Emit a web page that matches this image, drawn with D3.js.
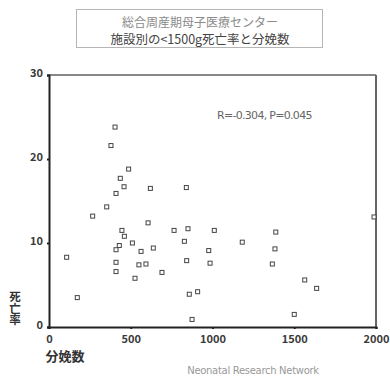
<!DOCTYPE html>
<html>
<head>
<meta charset="utf-8">
<script src="https://cdn.jsdelivr.net/npm/d3@7/dist/d3.min.js"></script>
<style>
  html, body { margin: 0; padding: 0; background: #fff; }
  svg { display: block; }
  text { font-family: "Noto Sans CJK JP", "Noto Sans", sans-serif; }
</style>
</head>
<body>
<svg id="chart" width="390" height="377"></svg>
<script>
// Births per facility (x) and <1500g mortality rate in % (y)
const births = [108, 173, 267, 353, 379, 404, 410, 436, 459, 487, 446, 461, 430, 410, 510,
  410, 410, 563, 638, 606, 620, 840, 765, 850, 1011, 1182, 828, 977, 842, 985,
  550, 593, 691, 526, 858, 909, 875, 1988, 1387, 1382, 1366, 1564, 1637, 1500];
const mortality = [8.3, 3.5, 13.2, 14.3, 21.6, 23.8, 15.9, 17.7, 16.7, 18.8, 11.5, 10.8, 9.7, 9.2, 10.0,
  7.7, 6.6, 9.0, 9.4, 12.4, 16.5, 16.6, 11.5, 11.7, 11.5, 10.1, 10.2, 9.1, 7.9, 7.6,
  7.4, 7.5, 6.5, 5.8, 3.9, 4.2, 0.9, 13.1, 11.3, 9.3, 7.5, 5.6, 4.6, 1.5];
const xTicks = [0, 500, 1000, 1500, 2000];
const yTicks = [0, 10, 20, 30];
const titleLines = ["総合周産期母子医療センター", "施設別の<1500g死亡率と分娩数"];
const statText = "R=-0.304, P=0.045";

const svg = d3.select("#chart");
const plotLeft = 49, plotRight = 376, plotTop = 75, plotBottom = 327;

const x = d3.scaleLinear().domain([0, 2000]).range([plotLeft, plotRight]);
const y = d3.scaleLinear().domain([0, 30]).range([plotBottom, plotTop]);

// Title box
svg.append("rect").attr("x", 76.5).attr("y", 9.5).attr("width", 246).attr("height", 38)
  .attr("fill", "#fff").attr("stroke", "#b5b5b5").attr("stroke-width", 1);
svg.append("text").attr("x", 200).attr("y", 21.5).attr("text-anchor", "middle")
  .attr("dominant-baseline", "central").attr("font-size", 12).attr("fill", "#8a8a8a")
  .text(titleLines[0]);
svg.append("text").attr("x", 200).attr("y", 38).attr("text-anchor", "middle")
  .attr("dominant-baseline", "central").attr("font-size", 12.5).attr("fill", "#444")
  .text(titleLines[1]);

// Frame: top and right edges
svg.append("line").attr("x1", plotLeft).attr("x2", plotRight).attr("y1", plotTop).attr("y2", plotTop)
  .attr("stroke", "#888").attr("stroke-width", 2);
svg.append("line").attr("x1", plotRight).attr("x2", plotRight).attr("y1", plotTop).attr("y2", plotBottom)
  .attr("stroke", "#666").attr("stroke-width", 2);

// Axes
const xAxis = d3.axisBottom(x).tickValues(xTicks).tickSize(2).tickPadding(6).tickFormat(d3.format("d"));
const yAxis = d3.axisLeft(y).tickValues(yTicks).tickSize(2).tickPadding(4).tickFormat(d3.format("d"));

const gx = svg.append("g").attr("transform", `translate(0,${plotBottom})`).call(xAxis);
const gy = svg.append("g").attr("transform", `translate(${plotLeft},0)`).call(yAxis);
[gx, gy].forEach(g => {
  g.select(".domain").attr("stroke", "#222").attr("stroke-width", 2);
  g.selectAll(".tick line").attr("stroke", "#222").attr("stroke-width", 2);
  g.selectAll(".tick text").attr("font-size", 11).attr("font-weight", "bold")
    .attr("fill", "#3a3a3a").style("font-family", "'Noto Sans CJK JP', sans-serif");
});
gy.selectAll(".tick text").attr("dy", "0.1em");

// Axis titles: y title set in vertical writing mode
svg.append("text").attr("x", 15).attr("y", 291)
  .style("writing-mode", "vertical-rl").style("text-orientation", "upright")
  .attr("font-size", 11.5).attr("font-weight", "bold").attr("fill", "#333")
  .text("死亡率");
svg.append("text").attr("x", 65).attr("y", 355).attr("text-anchor", "middle")
  .attr("dominant-baseline", "central").attr("font-size", 13).attr("font-weight", "bold")
  .attr("fill", "#333").text("分娩数");

// Points
svg.append("g").selectAll("rect").data(births.map((b, i) => [b, mortality[i]])).join("rect")
  .attr("x", d => x(d[0]) - 2).attr("y", d => y(d[1]) - 2)
  .attr("width", 4).attr("height", 4)
  .attr("fill", "#fff").attr("stroke", "#444").attr("stroke-width", 1);

// Correlation note
svg.append("text").attr("x", 217).attr("y", 115).attr("dominant-baseline", "central")
  .attr("font-size", 11).attr("fill", "#666").style("font-family", "'DejaVu Sans', sans-serif")
  .attr("letter-spacing", -0.7).text(statText);

// Source
svg.append("text").attr("x", 253).attr("y", 370).attr("text-anchor", "middle")
  .attr("dominant-baseline", "central").attr("font-size", 10).attr("fill", "#999")
  .style("font-family", "'DejaVu Sans', sans-serif").attr("letter-spacing", -0.3)
  .text("Neonatal Research Network");
</script>
</body>
</html>
